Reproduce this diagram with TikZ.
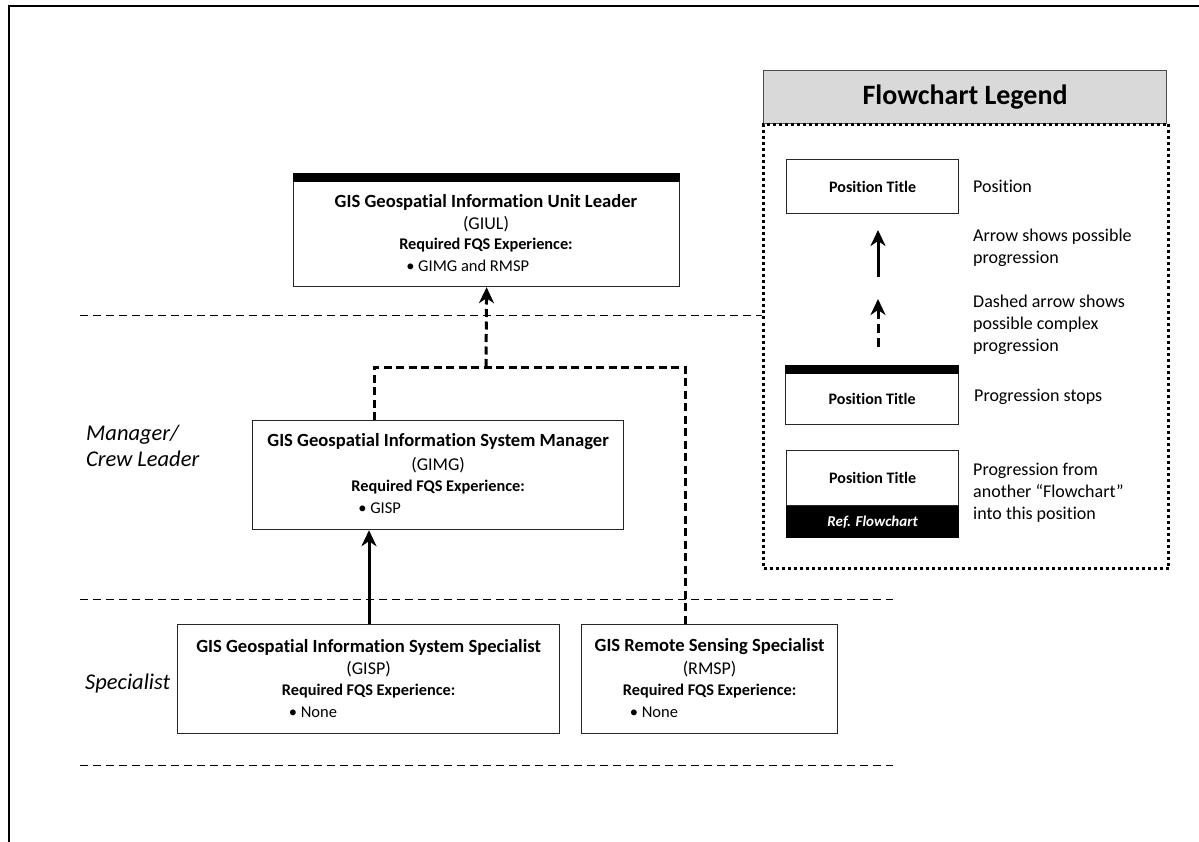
\documentclass[tikz,border=0pt]{standalone}
\usepackage{fontspec}
\setmainfont{Carlito}[Ligatures=NoCommon]
\usetikzlibrary{arrows.meta}
\begin{document}
\begin{tikzpicture}[x=1pt,y=-1pt,
  posbox/.style={draw=black!85, line width=1.2pt, fill=white, inner sep=0pt, anchor=north west},
  bar/.style={fill=black, draw=black, inner sep=0pt, anchor=south west},
  ttl/.style={font=\fontsize{18.6}{20}\selectfont\bfseries, inner sep=0pt},
  code/.style={font=\fontsize{18}{20}\selectfont, inner sep=0pt},
  req/.style={font=\fontsize{16.3}{20}\selectfont\bfseries, inner sep=0pt},
  bul/.style={font=\fontsize{16.5}{20}\selectfont, inner sep=0pt, anchor=west},
  lvl/.style={font=\fontsize{22.5}{24}\selectfont\itshape, inner sep=0pt, anchor=west},
  sep/.style={line width=0.8pt, dash pattern=on 8pt off 5pt},
  dashcon/.style={line width=3pt, dash pattern=on 8pt off 4.5pt},
  solidcon/.style={line width=3pt},
  tip/.style={-{Stealth[length=16pt,width=15pt,inset=5pt]}},
  lgtext/.style={font=\fontsize{18}{22}\selectfont, inner sep=0pt, anchor=west, align=left},
  lgbtxt/.style={font=\fontsize{16}{18}\selectfont\bfseries, inner sep=0pt}
]
\useasboundingbox (0,0) rectangle (1199,842);
% outer frame
\coordinate (fa) at (9,842);
\coordinate (fb) at (9,6);
\coordinate (fc) at (1199,6);
\draw[line width=2pt] (fa) -- (fb) -- (fc);

% ---------- legend ----------
\node[posbox, draw=black!70, fill=black!15, minimum width=403pt, minimum height=53pt] (lgt) at (763,70) {};
\node[font=\fontsize{28}{30}\selectfont\bfseries, inner sep=0pt] (lgtt) at (lgt.center) {Flowchart Legend};
\node[draw=black, line width=3pt, dash pattern=on 3pt off 3pt, inner sep=0pt, anchor=north west,
      minimum width=405pt, minimum height=444pt] (lgbox) at (762,123) {};

\node[posbox, minimum width=172pt, minimum height=54pt] (lp1) at (786,159) {};
\node[lgbtxt] (lp1t) at (lp1.center) {Position Title};
\node[lgtext] (lx1) at (973,186) {Position};

\coordinate (la1s) at (878,277);
\coordinate (la1e) at (878,230);
\draw[solidcon, tip] (la1s) -- (la1e);
\node[lgtext] (lx2) at (973,248) {Arrow shows possible\\progression};

\coordinate (la2s) at (878,347);
\coordinate (la2e) at (878,299);
\draw[dashcon, dash pattern=on 9pt off 5pt, tip] (la2s) -- (la2e);
\node[lgtext] (lx3) at (973,325) {Dashed arrow shows\\possible complex\\progression};

\node[posbox, minimum width=173pt, minimum height=51pt] (lp2) at (785,373) {};
\node[bar, minimum width=173pt, minimum height=8pt] (lp2b) at (lp2.north west) {};
\node[lgbtxt] (lp2t) at (lp2.center) {Position Title};
\node[lgtext] (lx4) at (974,397) {Progression stops};

\node[posbox, minimum width=172pt, minimum height=55pt] (lp3) at (786,450) {};
\node[lgbtxt] (lp3t) at (lp3.center) {Position Title};
\node[posbox, fill=black, draw=black, minimum width=172pt, minimum height=31pt] (lp3b) at (lp3.south west) {};
\node[font=\fontsize{15}{17}\selectfont\bfseries\itshape, text=white, inner sep=0pt] (lp3bt) at (lp3b.center) {Ref. Flowchart};
\node[lgtext] (lx5) at (973,493) {Progression from\\another “Flowchart”\\into this position};

% ---------- separators ----------
\coordinate (s1a) at (80,315);
\coordinate (s2a) at (80,599);
\coordinate (s2b) at (893,599);
\coordinate (s3a) at (80,765);
\coordinate (s3b) at (893,765);
\draw[sep] (s1a) -- (s1a -| lgbox.west);
\draw[sep] (s2a) -- (s2b);
\draw[sep] (s3a) -- (s3b);

% ---------- level labels ----------
\node[lvl] (lv1) at (86,435) {Manager/};
\node[lvl] (lv2) at (86,459) {Crew Leader};
\node[lvl] (lv3) at (85,683) {Specialist};

% ---------- GIUL ----------
\node[posbox, minimum width=386pt, minimum height=105pt] (giul) at (293,181) {};
\node[bar, minimum width=386pt, minimum height=8pt] (giulb) at (giul.north west) {};
\node[ttl] (giul1) at (486,202) {GIS Geospatial Information Unit Leader};
\node[code] (giul2) at (486,224) {(GIUL)};
\node[req] (giul3) at (486,245) {Required FQS Experience:};
\path (giul3.west) ++(7,21) node[bul] (giul4) {• GIMG and RMSP};

% ---------- GIMG ----------
\node[posbox, minimum width=371pt, minimum height=109pt] (gimg) at (252,420) {};
\node[ttl] (gimg1) at (gimg.center |- 0,442) {GIS Geospatial Information System Manager};
\node[code] (gimg2) at (gimg.center |- 0,465) {(GIMG)};
\node[req] (gimg3) at (gimg.center |- 0,487) {Required FQS Experience:};
\path (gimg3.west) ++(7,21) node[bul] (gimg4) {• GISP};

% ---------- GISP ----------
\node[posbox, minimum width=382pt, minimum height=109pt] (gisp) at (177,624) {};
\node[ttl] (gisp1) at (gisp.center |- 0,647) {GIS Geospatial Information System Specialist};
\node[code] (gisp2) at (gisp.center |- 0,669) {(GISP)};
\node[req] (gisp3) at (gisp.center |- 0,691) {Required FQS Experience:};
\path (gisp3.west) ++(7,21) node[bul] (gisp4) {• None};

% ---------- RMSP ----------
\node[posbox, minimum width=256pt, minimum height=109pt] (rmsp) at (581,624) {};
\node[ttl] (rmsp1) at (rmsp.center |- 0,647) {GIS Remote Sensing Specialist};
\node[code] (rmsp2) at (rmsp.center |- 0,669) {(RMSP)};
\node[req] (rmsp3) at (rmsp.center |- 0,691) {Required FQS Experience:};
\path (rmsp3.west) ++(7,21) node[bul] (rmsp4) {• None};

% ---------- connectors ----------
\coordinate (sx) at (369,0);
\draw[solidcon, tip] (gisp.north -| sx) -- (gimg.south -| sx);

\coordinate (jl) at (374,367);
\coordinate (jr) at (685,367);
\coordinate (jm) at (486,367);
\draw[dashcon] (gimg.north -| jl) -- (jl) -- (jr) -- (rmsp.north -| jr);
\draw[dashcon, tip] (jm) -- (giul.south);
\end{tikzpicture}
\end{document}
